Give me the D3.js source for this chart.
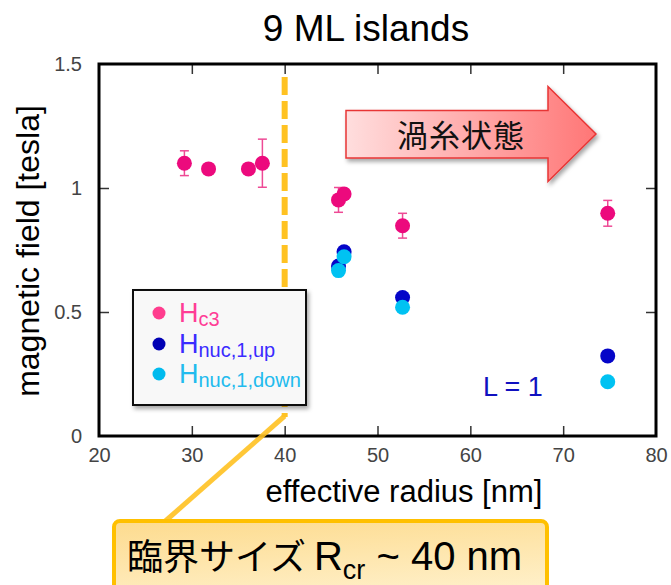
<!DOCTYPE html>
<html>
<head>
<meta charset="utf-8">
<script src="https://cdn.jsdelivr.net/npm/d3@7"></script>
<style>
  body { margin: 0; background: #fff; }
  svg text { font-family: "Liberation Sans", Arial, sans-serif; }
</style>
</head>
<body>
<svg id="chart" width="671" height="585"></svg>
<script>
// values
var xTicks = [20, 30, 40, 50, 60, 70, 80];
var yTicks = [0, 0.5, 1, 1.5];

var hc3Radius = [29.2, 31.8, 36.1, 37.6, 45.8, 46.4, 52.7, 74.8];
var hc3Field  = [1.10, 1.077, 1.077, 1.10, 0.952, 0.976, 0.848, 0.898];
var hc3Err    = [0.05, 0.0, 0.0, 0.097, 0.05, 0.02, 0.05, 0.052];

var nucRadius = [45.8, 46.4, 52.7, 74.8];
var nucUp     = [0.685, 0.743, 0.558, 0.323];
var nucDown   = [0.667, 0.723, 0.519, 0.219];

var criticalRadius = 40;

const margin = {top: 64, right: 15, bottom: 149, left: 99};
const width = 671 - margin.left - margin.right;
const height = 585 - margin.top - margin.bottom;

var svg = d3.select("#chart");
var defs = svg.append("defs");

var shadow = defs.append("filter").attr("id", "shadow")
    .attr("x", "-10%").attr("y", "-10%").attr("width", "130%").attr("height", "140%");
shadow.append("feDropShadow").attr("dx", 2).attr("dy", 3).attr("stdDeviation", 2)
    .attr("flood-color", "#000").attr("flood-opacity", 0.35);

var arrowGrad = defs.append("linearGradient").attr("id", "arrowGrad")
    .attr("x1", "0%").attr("x2", "100%").attr("y1", "0%").attr("y2", "0%");
arrowGrad.append("stop").attr("offset", "0%").attr("stop-color", "#ffdede");
arrowGrad.append("stop").attr("offset", "100%").attr("stop-color", "#ff7676");

var boxGrad = defs.append("linearGradient").attr("id", "boxGrad")
    .attr("x1", "0%").attr("x2", "30%").attr("y1", "0%").attr("y2", "100%");
boxGrad.append("stop").attr("offset", "0%").attr("stop-color", "#fddb8e");
boxGrad.append("stop").attr("offset", "100%").attr("stop-color", "#fff1cc");

const x = d3.scaleLinear().domain([20, 80]).range([0, width]);
const y = d3.scaleLinear().domain([0, 1.5]).range([height, 0]);

const g = svg.append("g").attr("transform", `translate(${margin.left},${margin.top})`);

// axes, ticks pointing inwards
function styleAxis(sel){
    sel.select(".domain").remove();
    sel.selectAll(".tick line").attr("stroke", "#333").attr("stroke-width", 1.5);
    sel.selectAll(".tick text").attr("fill", "#444").attr("font-size", 20);
}
var inner = xTicks.slice(1, -1);
var innerY = yTicks.slice(1, -1);

g.append("g").attr("transform", `translate(0,${height})`)
    .call(d3.axisBottom(x).tickValues(xTicks).tickSize(-10).tickPadding(12))
    .call(styleAxis)
    .selectAll(".tick line").attr("opacity", d => inner.includes(d) ? 1 : 0);

g.append("g")
    .call(d3.axisTop(x).tickValues(inner).tickSize(-10).tickFormat(""))
    .call(styleAxis);

g.append("g")
    .call(d3.axisLeft(y).tickValues(yTicks).tickSize(-10).tickPadding(17).tickFormat(d3.format("")))
    .call(styleAxis)
    .selectAll(".tick line").attr("opacity", d => innerY.includes(d) ? 1 : 0);

g.append("g").attr("transform", `translate(${width},0)`)
    .call(d3.axisRight(y).tickValues(innerY).tickSize(-10).tickFormat(""))
    .call(styleAxis);

g.append("rect")
    .attr("width", width).attr("height", height)
    .attr("fill", "none").attr("stroke", "#000").attr("stroke-width", 3);

// critical size marker
g.append("line")
    .attr("x1", x(criticalRadius)).attr("x2", x(criticalRadius))
    .attr("y1", 13).attr("y2", 353)
    .attr("stroke", "#ffc222").attr("stroke-width", 6)
    .attr("stroke-dasharray", "18,6");

// error bars
var errData = hc3Radius.map((r, i) => ({r: r, v: hc3Field[i], e: hc3Err[i]})).filter(d => d.e > 0);
var eb = g.append("g").attr("stroke", "#ee4a95").attr("stroke-width", 1.5);
eb.selectAll(".bar").data(errData).enter().append("line")
    .attr("x1", d => x(d.r)).attr("x2", d => x(d.r))
    .attr("y1", d => y(d.v + d.e)).attr("y2", d => y(d.v - d.e));
eb.selectAll(".capTop").data(errData).enter().append("line")
    .attr("x1", d => x(d.r) - 4.5).attr("x2", d => x(d.r) + 4.5)
    .attr("y1", d => y(d.v + d.e)).attr("y2", d => y(d.v + d.e));
eb.selectAll(".capBot").data(errData).enter().append("line")
    .attr("x1", d => x(d.r) - 4.5).attr("x2", d => x(d.r) + 4.5)
    .attr("y1", d => y(d.v - d.e)).attr("y2", d => y(d.v - d.e));

function dots(xs, ys, color){
    g.append("g").selectAll("circle")
        .data(xs.map((r, i) => [r, ys[i]]))
        .enter().append("circle")
        .attr("cx", d => x(d[0])).attr("cy", d => y(d[1]))
        .attr("r", 7.5).attr("fill", color);
}
dots(hc3Radius, hc3Field, "#ec0a7d");
dots(nucRadius, nucUp, "#0505c8");
dots(nucRadius, nucDown, "#00c2f2");

// arrow
var arrow = svg.append("g").attr("filter", "url(#shadow)");
arrow.append("path")
    .attr("d", "M346,110.5 L548,110.5 L548,86.5 L596,134 L548,181.5 L548,158 L346,158 Z")
    .attr("fill", "url(#arrowGrad)").attr("stroke", "#e83636").attr("stroke-width", 1.5);
svg.append("text")
    .attr("x", 461).attr("y", 147)
    .attr("text-anchor", "middle")
    .attr("font-size", 31)
    .style("font-family", "'Noto Sans CJK JP', sans-serif")
    .attr("letter-spacing", 1)
    .attr("fill", "#111")
    .text("渦糸状態");

// legend
var leg = svg.append("g");
leg.append("rect")
    .attr("x", 133).attr("y", 290).attr("width", 173).attr("height", 115)
    .attr("fill", "#f8f8f8").attr("stroke", "#111").attr("stroke-width", 2)
    .attr("filter", "url(#shadow)");
var legItems = [
    {sub: "c3", dot: "#ff3d8e", txt: "#ff3d95", cy: 313, base: 322},
    {sub: "nuc,1,up", dot: "#0000b4", txt: "#3a2cff", cy: 344, base: 353},
    {sub: "nuc,1,down", dot: "#00bbee", txt: "#22bbee", cy: 374, base: 383}
];
legItems.forEach(function(d){
    leg.append("circle").attr("cx", 159).attr("cy", d.cy).attr("r", 6.5).attr("fill", d.dot);
    var t = leg.append("text").attr("x", 179).attr("y", d.base).attr("fill", d.txt);
    t.append("tspan").attr("font-size", 27).text("H");
    t.append("tspan").attr("font-size", 20).attr("dy", 4).text(d.sub);
});

svg.append("text")
    .attr("x", 483).attr("y", 396)
    .attr("font-size", 27).attr("fill", "#1010c0")
    .text("L = 1");

// callout
svg.append("line")
    .attr("x1", margin.left + x(criticalRadius)).attr("y1", 416)
    .attr("x2", 162).attr("y2", 524)
    .attr("stroke", "#ffc222").attr("stroke-width", 5).attr("opacity", 0.9);
svg.append("rect")
    .attr("x", 114).attr("y", 521).attr("width", 433).attr("height", 90)
    .attr("rx", 6)
    .attr("fill", "url(#boxGrad)").attr("stroke", "#ffc000").attr("stroke-width", 4);
var ct = svg.append("text").attr("x", 127).attr("y", 570).attr("fill", "#000");
ct.append("tspan").attr("font-size", 36)
    .style("font-family", "'Noto Sans CJK JP', sans-serif").text("臨界サイズ");
ct.append("tspan").attr("font-size", 40).attr("dx", 8).text("R");
ct.append("tspan").attr("font-size", 27).attr("dy", 9).text("cr");
ct.append("tspan").attr("font-size", 40).attr("dy", -9).text(" ~ 40 nm");

// title and labels
svg.append("text")
    .attr("x", 366).attr("y", 41)
    .attr("text-anchor", "middle").attr("font-size", 37).attr("fill", "#000")
    .text("9 ML islands");

svg.append("text")
    .attr("x", 404).attr("y", 502)
    .attr("text-anchor", "middle").attr("font-size", 31).attr("fill", "#000")
    .text("effective radius [nm]");

svg.append("text")
    .attr("transform", "translate(39,251) rotate(-90)")
    .attr("text-anchor", "middle").attr("font-size", 32).attr("fill", "#000")
    .text("magnetic field [tesla]");
</script>
</body>
</html>
